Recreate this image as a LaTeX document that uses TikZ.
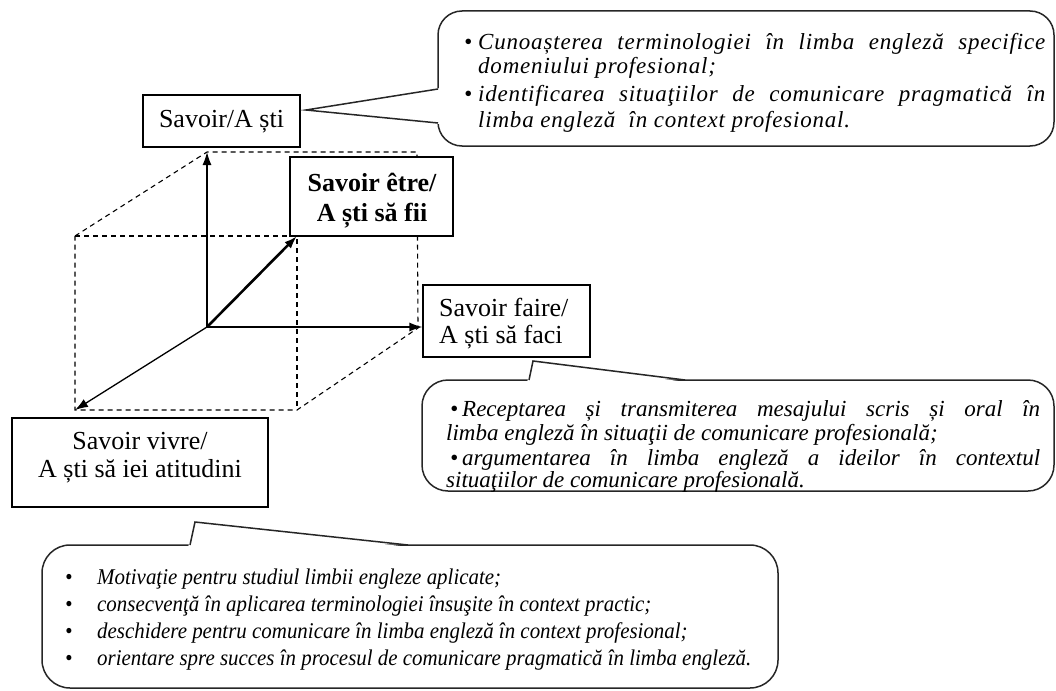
\documentclass[tikz,border=0pt]{standalone}
\usepackage{fontspec}
\setmainfont{Liberation Serif}
\newfontfamily\spacedfont[LetterSpace=3.5]{Liberation Serif}
\newfontfamily\narrowfont[FakeStretch=0.93]{Liberation Serif}
\usetikzlibrary{arrows.meta}
\newcommand\boxfont{\fontsize{26pt}{30pt}\selectfont}
\newcommand\boxbold{\fontsize{26pt}{30pt}\selectfont\bfseries}
\newcommand\calfont{\fontsize{23pt}{25pt}\selectfont\itshape}
\newcommand\calfontsp{\spacedfont\fontsize{23pt}{25pt}\selectfont\itshape}
\newcommand\calfontb{\narrowfont\fontsize{22.5pt}{27pt}\selectfont\itshape}
\begin{document}
\begin{tikzpicture}[x=1pt,y=-1pt,
  box/.style={draw=black, line width=1.2pt, fill=white, inner sep=0pt},
  lbl/.style={anchor=base, inner sep=0pt, font=\boxfont},
  lblw/.style={anchor=base west, inner sep=0pt, font=\boxfont},
  ax/.style={line width=1.3pt, -{Latex[length=13pt,width=9pt]}},
  axthick/.style={ax, line width=2.6pt},
  cube/.style={dash pattern=on 5pt off 4pt, line width=1.1pt},
  callout/.style={draw=black!85, line width=1.5pt},
  ct/.style={anchor=base west, inner sep=0pt, font=\calfont},
  cts/.style={anchor=base west, inner sep=0pt, font=\calfontsp},
  cb/.style={anchor=base west, inner sep=0pt, font=\calfontb}]
\useasboundingbox (0,0) rectangle (1056,690);

% cube corners
\coordinate (O) at (207,327);
\coordinate (A) at (207,152);
\coordinate (B) at (417,152);
\coordinate (C) at (75,236);
\coordinate (D) at (297,236);
\coordinate (E) at (75,410);
\coordinate (F) at (297,410);
\coordinate (G) at (418,328);

\draw[cube] (C) -- (A) -- (B) -- (G) -- (F) -- (E) -- cycle;
\draw[cube] (C) -- (D) -- (F);

% boxes
\node[box, minimum width=157pt, minimum height=52pt] (sti) at (221.5,121) {};
\node[box, minimum width=163pt, minimum height=79pt] (etre) at (371.5,196.5) {};
\node[box, minimum width=167pt, minimum height=72pt] (faire) at (506.5,321) {};
\node[box, minimum width=256pt, minimum height=89pt] (vivre) at (140,462.5) {};

\node[lbl] (stiT) at (221.5,127) {Savoir/A ști};
\node[lbl, font=\boxbold] (etreT1) at (372,191) {Savoir être/};
\node[lbl, font=\boxbold] (etreT2) at (372,221) {A ști să fii};
\node[lblw] (faireT1) at (439,316) {Savoir faire/};
\node[lblw] (faireT2) at (439,343) {A ști să faci};
\node[lbl] (vivreT1) at (140,449) {Savoir vivre/};
\node[lbl] (vivreT2) at (140,477) {A ști să iei atitudini};

% axes
\draw[ax] (O) -- (A);
\draw[ax] (O) -- (O -| faire.west);
\draw[ax] (O) -- (E);
\draw[axthick] (O) -- (D);

% top callout
\draw[callout, rounded corners=24pt] (438,11) rectangle (1054,146);
\fill[white] (440.5,88) -- (306,110) -- (440.5,124) -- cycle;
\draw[callout] (438,89) -- (306,110) -- (438,123);
\node[ct] (t1b) at (464,50) {•};
\node[cts] (t1) at (478,50) {\makebox[567pt][s]{Cunoașterea terminologiei în limba engleză specifice}};
\node[cts] (t2) at (478,74) {domeniului profesional;};
\node[ct] (t3b) at (464,102) {•};
\node[cts] (t3) at (478,102) {\makebox[567pt][s]{identificarea situaţiilor de comunicare pragmatică în}};
\node[cts] (t4) at (478,128) {limba engleză\ \ în context profesional.};

% middle callout
\draw[callout, rounded corners=26pt] (422,380) rectangle (1054,491);
\fill[white] (527,382.5) -- (533,361) -- (689,382.5) -- cycle;
\draw[callout] (529,380) -- (533,361) -- (685,380);
\node[ct] (m1b) at (450,416) {•};
\node[ct] (m1) at (462,416) {\makebox[578pt][s]{Receptarea și transmiterea mesajului scris și oral în}};
\node[ct] (m2) at (446,440) {limba engleză în situaţii de comunicare profesională;};
\node[ct] (m3b) at (450,465) {•};
\node[ct] (m3) at (462,465) {\makebox[578pt][s]{argumentarea în limba engleză a ideilor în contextul}};
\node[ct] (m4) at (446,487) {situaţiilor de comunicare profesională.};

% bottom callout
\draw[callout, rounded corners=28pt] (42,545) rectangle (778,688);
\fill[white] (188,547.5) -- (195,522) -- (413,547.5) -- cycle;
\draw[callout] (190,545) -- (195,522) -- (408,545);
\node[cb] (b1b) at (65,584) {•};
\node[cb] (b1) at (97,584) {Motivaţie pentru studiul limbii engleze aplicate;};
\node[cb] (b2b) at (65,611) {•};
\node[cb] (b2) at (97,611) {consecvenţă în aplicarea terminologiei însuşite în context practic;};
\node[cb] (b3b) at (65,638) {•};
\node[cb] (b3) at (97,638) {deschidere pentru comunicare în limba engleză în context profesional;};
\node[cb] (b4b) at (65,665) {•};
\node[cb] (b4) at (97,665) {orientare spre succes în procesul de comunicare pragmatică în limba engleză.};
\end{tikzpicture}
\end{document}
